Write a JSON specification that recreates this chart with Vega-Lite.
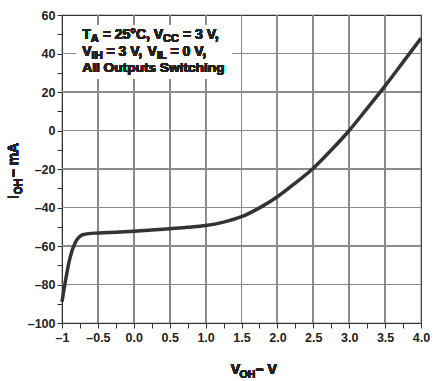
{
  "$schema": "https://vega.github.io/schema/vega-lite/v6.json",
  "width": 359,
  "height": 308,
  "autosize": {"type": "none"},
  "padding": {"left": 62, "top": 15, "right": 20, "bottom": 58},
  "background": "white",
  "config": {
    "view": {"stroke": "#333333", "strokeWidth": 1.2},
    "font": "Liberation Sans",
    "text": {"font": "Liberation Sans", "fontWeight": "bold", "color": "#222222", "align": "left", "baseline": "alphabetic"},
    "rule": {"color": "#8a8a8a", "strokeWidth": 1},
    "axis": {
      "domainColor": "#333333",
      "tickColor": "#333333",
      "tickSize": 5,
      "labelFont": "Liberation Sans",
      "labelFontWeight": "bold",
      "labelFontSize": 12.5,
      "labelColor": "#222222",
      "grid": false
    }
  },
  "resolve": {"axis": {"x": "independent", "y": "independent"}},
  "data": {
    "values": [
      {"voh": -1.0, "ioh": -89},
      {"voh": -0.89, "ioh": -66.4},
      {"voh": -0.8, "ioh": -57.2},
      {"voh": -0.75, "ioh": -55.0},
      {"voh": -0.7, "ioh": -54.0},
      {"voh": -0.5, "ioh": -53.2},
      {"voh": -0.25, "ioh": -52.8},
      {"voh": 0.0, "ioh": -52.3},
      {"voh": 0.25, "ioh": -51.7},
      {"voh": 0.5, "ioh": -51.0},
      {"voh": 0.75, "ioh": -50.3},
      {"voh": 1.0, "ioh": -49.4},
      {"voh": 1.25, "ioh": -47.6},
      {"voh": 1.5, "ioh": -44.8},
      {"voh": 1.75, "ioh": -40.2},
      {"voh": 2.0, "ioh": -34.4},
      {"voh": 2.25, "ioh": -27.3},
      {"voh": 2.5, "ioh": -19.6},
      {"voh": 2.75, "ioh": -10.2},
      {"voh": 3.0, "ioh": 0.0},
      {"voh": 3.25, "ioh": 11.5},
      {"voh": 3.5, "ioh": 23.2},
      {"voh": 3.75, "ioh": 35.5},
      {"voh": 4.0, "ioh": 47.9}
    ]
  },
  "layer": [
    {"mark": "rule", "encoding": {"x": {"datum": -0.5, "type": "quantitative", "axis": null}}},
    {"mark": "rule", "encoding": {"x": {"datum": 0, "type": "quantitative", "axis": null}}},
    {"mark": "rule", "encoding": {"x": {"datum": 0.5, "type": "quantitative", "axis": null}}},
    {"mark": "rule", "encoding": {"x": {"datum": 1, "type": "quantitative", "axis": null}}},
    {"mark": "rule", "encoding": {"x": {"datum": 1.5, "type": "quantitative", "axis": null}}},
    {"mark": "rule", "encoding": {"x": {"datum": 2, "type": "quantitative", "axis": null}}},
    {"mark": "rule", "encoding": {"x": {"datum": 2.5, "type": "quantitative", "axis": null}}},
    {"mark": "rule", "encoding": {"x": {"datum": 3, "type": "quantitative", "axis": null}}},
    {"mark": "rule", "encoding": {"x": {"datum": 3.5, "type": "quantitative", "axis": null}}},
    {"mark": "rule", "encoding": {"y": {"datum": -80, "type": "quantitative", "axis": null}}},
    {"mark": "rule", "encoding": {"y": {"datum": -60, "type": "quantitative", "axis": null}}},
    {"mark": "rule", "encoding": {"y": {"datum": -40, "type": "quantitative", "axis": null}}},
    {"mark": "rule", "encoding": {"y": {"datum": -20, "type": "quantitative", "axis": null}}},
    {"mark": "rule", "encoding": {"y": {"datum": 0, "type": "quantitative", "axis": null}}},
    {"mark": "rule", "encoding": {"y": {"datum": 20, "type": "quantitative", "axis": null}}},
    {"mark": "rule", "encoding": {"y": {"datum": 40, "type": "quantitative", "axis": null}}},
    {
      "mark": {"type": "line", "color": "#333333", "strokeWidth": 3.5, "interpolate": "monotone"},
      "encoding": {
        "x": {
          "field": "voh", "type": "quantitative",
          "scale": {"domain": [-1, 4], "nice": false, "zero": false},
          "axis": {
            "title": null,
            "orient": "bottom",
            "grid": false,
            "values": [-1, -0.5, 0, 0.5, 1, 1.5, 2, 2.5, 3, 3.5, 4],
            "labelExpr": "datum.value == -1 ? '–1' : (datum.value < 0 ? '–' : '') + format(abs(datum.value), '.1f')",
            "labelPadding": 3,
            "labelOverlap": false,
            "labelFlush": false,
            "labelBound": false
          }
        },
        "y": {
          "field": "ioh", "type": "quantitative",
          "scale": {"domain": [-100, 60], "nice": false, "zero": false},
          "axis": {
            "title": null,
            "orient": "left",
            "grid": false,
            "values": [-100, -80, -60, -40, -20, 0, 20, 40, 60],
            "labelExpr": "(datum.value < 0 ? '–' : '') + format(abs(datum.value), 'd')",
            "labelPadding": 2,
            "labelOverlap": false,
            "labelFlush": false,
            "labelBound": false
          }
        }
      }
    },
    {
      "mark": {"type": "rect", "color": "white"},
      "encoding": {
        "x": {"datum": -0.795, "type": "quantitative", "axis": {"orient": "bottom", "title": null, "grid": false, "labels": false, "domain": false, "values": [-0.75, -0.25, 0.25, 0.75, 1.25, 1.75, 2.25, 2.75, 3.25, 3.75]}},
        "x2": {"datum": 1.363},
        "y": {"datum": 54.8, "type": "quantitative", "axis": {"orient": "left", "title": null, "grid": false, "labels": false, "domain": false, "values": [-90, -70, -50, -30, -10, 10, 30, 50]}},
        "y2": {"datum": 26.75}
      }
    },
    {
      "mark": {"type": "text", "text": "T", "fontSize": 14},
      "encoding": {"x": {"datum": -0.717, "type": "quantitative", "axis": null}, "y": {"datum": 47.7, "type": "quantitative", "axis": null}}
    },
    {
      "mark": {"type": "text", "text": "A", "fontSize": 11, "dx": 8.5, "dy": 3},
      "encoding": {"x": {"datum": -0.717, "type": "quantitative", "axis": null}, "y": {"datum": 47.7, "type": "quantitative", "axis": null}}
    },
    {
      "mark": {"type": "text", "text": "= 25°C,", "fontSize": 14, "dx": 20.4},
      "encoding": {"x": {"datum": -0.717, "type": "quantitative", "axis": null}, "y": {"datum": 47.7, "type": "quantitative", "axis": null}}
    },
    {
      "mark": {"type": "text", "text": "V", "fontSize": 14, "dx": 71.5},
      "encoding": {"x": {"datum": -0.717, "type": "quantitative", "axis": null}, "y": {"datum": 47.7, "type": "quantitative", "axis": null}}
    },
    {
      "mark": {"type": "text", "text": "CC", "fontSize": 11, "dx": 80.8, "dy": 3},
      "encoding": {"x": {"datum": -0.717, "type": "quantitative", "axis": null}, "y": {"datum": 47.7, "type": "quantitative", "axis": null}}
    },
    {
      "mark": {"type": "text", "text": "= 3 V,", "fontSize": 14, "dx": 100.6},
      "encoding": {"x": {"datum": -0.717, "type": "quantitative", "axis": null}, "y": {"datum": 47.7, "type": "quantitative", "axis": null}}
    },
    {
      "mark": {"type": "text", "text": "V", "fontSize": 14},
      "encoding": {"x": {"datum": -0.717, "type": "quantitative", "axis": null}, "y": {"datum": 38.9, "type": "quantitative", "axis": null}}
    },
    {
      "mark": {"type": "text", "text": "IH", "fontSize": 11, "dx": 9.3, "dy": 3},
      "encoding": {"x": {"datum": -0.717, "type": "quantitative", "axis": null}, "y": {"datum": 38.9, "type": "quantitative", "axis": null}}
    },
    {
      "mark": {"type": "text", "text": "= 3 V,", "fontSize": 14, "dx": 24.2},
      "encoding": {"x": {"datum": -0.717, "type": "quantitative", "axis": null}, "y": {"datum": 38.9, "type": "quantitative", "axis": null}}
    },
    {
      "mark": {"type": "text", "text": "V", "fontSize": 14, "dx": 65.1},
      "encoding": {"x": {"datum": -0.717, "type": "quantitative", "axis": null}, "y": {"datum": 38.9, "type": "quantitative", "axis": null}}
    },
    {
      "mark": {"type": "text", "text": "IL", "fontSize": 11, "dx": 74.4, "dy": 3},
      "encoding": {"x": {"datum": -0.717, "type": "quantitative", "axis": null}, "y": {"datum": 38.9, "type": "quantitative", "axis": null}}
    },
    {
      "mark": {"type": "text", "text": "= 0 V,", "fontSize": 14, "dx": 88.1},
      "encoding": {"x": {"datum": -0.717, "type": "quantitative", "axis": null}, "y": {"datum": 38.9, "type": "quantitative", "axis": null}}
    },
    {
      "mark": {"type": "text", "text": "All Outputs Switching", "fontSize": 13.7},
      "encoding": {"x": {"datum": -0.717, "type": "quantitative", "axis": null}, "y": {"datum": 30.4, "type": "quantitative", "axis": null}}
    },
    {
      "mark": {"type": "text", "text": "V", "fontSize": 14},
      "encoding": {"x": {"datum": 1.35, "type": "quantitative", "axis": null}, "y": {"datum": -126.6, "type": "quantitative", "axis": null}}
    },
    {
      "mark": {"type": "text", "text": "OH", "fontSize": 10.5, "dx": 8.8, "dy": 4},
      "encoding": {"x": {"datum": 1.35, "type": "quantitative", "axis": null}, "y": {"datum": -126.6, "type": "quantitative", "axis": null}}
    },
    {
      "mark": {"type": "text", "text": "– V", "fontSize": 14, "dx": 25},
      "encoding": {"x": {"datum": 1.35, "type": "quantitative", "axis": null}, "y": {"datum": -126.6, "type": "quantitative", "axis": null}}
    },
    {
      "mark": {"type": "text", "text": "I", "angle": 270, "fontSize": 14},
      "encoding": {"x": {"datum": -1.606, "type": "quantitative", "axis": null}, "y": {"datum": -35.6, "type": "quantitative", "axis": null}}
    },
    {
      "mark": {"type": "text", "text": "OH", "angle": 270, "fontSize": 10.5, "dx": 4.5, "dy": 4},
      "encoding": {"x": {"datum": -1.606, "type": "quantitative", "axis": null}, "y": {"datum": -35.6, "type": "quantitative", "axis": null}}
    },
    {
      "mark": {"type": "text", "text": "– mA", "angle": 270, "fontSize": 14, "dx": 22},
      "encoding": {"x": {"datum": -1.606, "type": "quantitative", "axis": null}, "y": {"datum": -35.6, "type": "quantitative", "axis": null}}
    }
  ]
}
